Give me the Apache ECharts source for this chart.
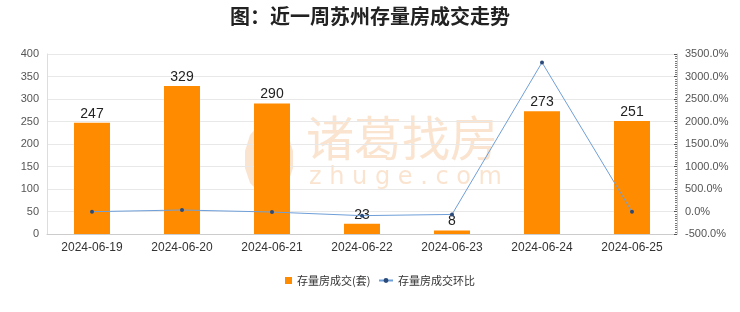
<!DOCTYPE html>
<html><head><meta charset="utf-8">
<script src="https://cdn.jsdelivr.net/npm/echarts@6/dist/echarts.min.js"></script>
<style>html,body{margin:0;padding:0;background:#fff}#c{width:740px;height:312px}</style>
</head><body><div id="c"></div>
<script>
const categories = ['2024-06-19','2024-06-20','2024-06-21','2024-06-22','2024-06-23','2024-06-24','2024-06-25'];
const volumes = [247, 329, 290, 23, 8, 273, 251];
const changePct = [-4.0, 33.2, -11.9, -92.1, -65.2, 3312.5, -8.1];
const leftTicks = {min: 0, max: 400, interval: 50};
const rightTicks = {min: -500, max: 3500, interval: 500};

const wm = 'rgba(246,205,170,0.55)';
function shift(pts, dx, dy) { return pts.map(p => [p[0] + dx, p[1] + dy]); }
const leafL = [[20,0],[10,12],[5,28],[5,45],[10,60],[25,75],[17,58],[14,42],[14,26],[16,12]];
const leafR = leafL.map(p => [58 - p[0], p[1]]);
const flame = [[29,12],[25,25],[23,40],[25,55],[29,68],[33,55],[35,40],[33,25]];
const chart = echarts.init(document.getElementById('c'), null, {renderer: 'canvas'});
chart.setOption({
  animation: false,
  backgroundColor: '#fff',
  title: {
    text: '图：近一周苏州存量房成交走势',
    left: 'center', top: 1,
    textStyle: {fontSize: 20, fontWeight: 'bold', color: '#222', fontFamily: 'Noto Sans CJK SC'}
  },
  graphic: [
    {type: 'polygon', z: 0, shape: {points: shift(leafL, 240, 123)}, style: {fill: wm}},
    {type: 'polygon', z: 0, shape: {points: shift(leafR, 240, 123)}, style: {fill: wm}},
    {type: 'polygon', z: 0, shape: {points: shift(flame, 240, 123)}, style: {fill: wm}},
    {type: 'text', z: 0, left: 306, top: 114, style: {text: '诸葛找房', fontSize: 48, fontFamily: 'Noto Sans CJK SC', fill: wm}},
    {type: 'text', z: 0, left: 309, top: 166, style: {text: 'z h u g e . c o m', fontSize: 24, fontFamily: 'DejaVu Sans', fill: wm}}
  ],
  legend: [
    {
      top: 275, left: 285, padding: 0, itemWidth: 7, itemHeight: 7,
      textStyle: {fontSize: 11, color: '#333', fontFamily: 'Noto Sans CJK SC'},
      data: [{name: '存量房成交(套)', icon: 'rect'}]
    },
    {
      top: 275, left: 378, padding: 0, itemWidth: 14, itemHeight: 6,
      textStyle: {fontSize: 11, color: '#333', fontFamily: 'Noto Sans CJK SC'},
      data: [{name: '存量房成交环比'}]
    }
  ],
  grid: {left: 47, right: 63, top: 54, bottom: 78},
  xAxis: {
    type: 'category', data: categories,
    axisLine: {lineStyle: {color: '#ccc'}},
    axisTick: {show: false},
    axisLabel: {color: '#333', fontSize: 12, margin: 8}
  },
  yAxis: [
    {
      type: 'value', min: leftTicks.min, max: leftTicks.max, interval: leftTicks.interval,
      axisLine: {show: true, lineStyle: {color: '#ddd'}},
      axisTick: {show: false},
      axisLabel: {color: '#555', fontSize: 11},
      splitLine: {lineStyle: {color: '#e8e8e8'}}
    },
    {
      type: 'value', min: rightTicks.min, max: rightTicks.max, interval: rightTicks.interval,
      axisLine: {show: true, lineStyle: {color: '#ccc'}},
      axisTick: {show: true, inside: true, length: 3, lineStyle: {color: '#555'}},
      minorTick: {show: true, splitNumber: 10, length: 2, lineStyle: {color: '#777'}},
      axisLabel: {color: '#555', fontSize: 11, formatter: v => v.toFixed(1) + '%'},
      splitLine: {show: false}
    }
  ],
  series: [
    {
      name: '存量房成交(套)', type: 'bar', data: volumes, barWidth: 36, z: 2,
      itemStyle: {color: '#FF8C00'},
      label: {show: true, position: 'top', color: '#222', fontSize: 14, distance: 2}
    },
    {
      name: '存量房成交环比', type: 'line', yAxisIndex: 1, data: changePct, z: 3,
      symbol: 'circle', symbolSize: 4,
      itemStyle: {color: '#2a4a7a'},
      lineStyle: {color: '#6f9fd8', width: 1}
    }
  ]
});
</script></body></html>
